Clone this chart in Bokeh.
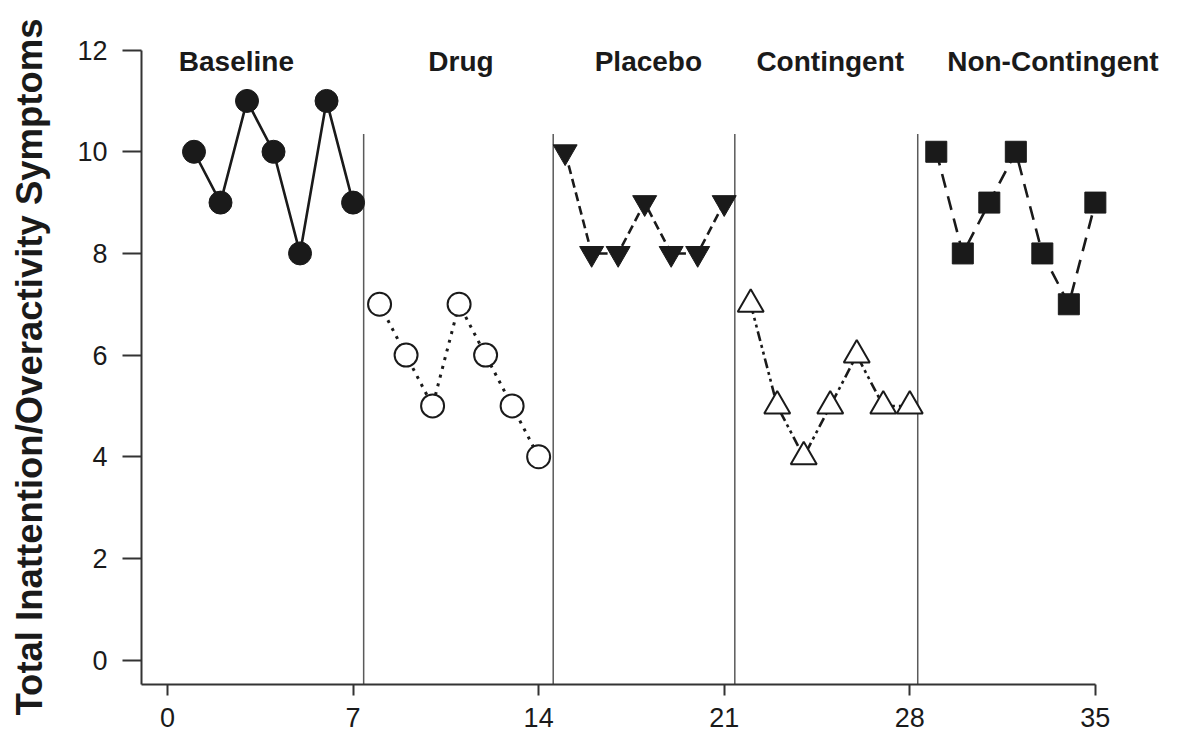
from bokeh.plotting import figure
from bokeh.models import FixedTicker, Range1d, Title
from bokeh.core.properties import value
from bokeh.embed import file_html
from bokeh.resources import INLINE

# ---- data ----
baseline_x = [1, 2, 3, 4, 5, 6, 7]
baseline_y = [10, 9, 11, 10, 8, 11, 9]
drug_x = [8, 9, 10, 11, 12, 13, 14]
drug_y = [7, 6, 5, 7, 6, 5, 4]
placebo_x = [15, 16, 17, 18, 19, 20, 21]
placebo_y = [10, 8, 8, 9, 8, 8, 9]
contingent_x = [22, 23, 24, 25, 26, 27, 28]
contingent_y = [7, 5, 4, 5, 6, 5, 5]
noncont_x = [29, 30, 31, 32, 33, 34, 35]
noncont_y = [10, 8, 9, 10, 8, 7, 9]

phase_names = ["Baseline", "Drug", "Placebo", "Contingent", "Non-Contingent"]
phase_label_x = [2.6, 11.07, 18.14, 25.0, 33.4]
phase_label_y = [11.77, 11.77, 11.77, 11.77, 11.77]
phase_breaks = [7.4, 14.55, 21.4, 28.3]
break_top = 10.35

x_ticks = [0, 7, 14, 21, 28, 35]
y_ticks = [0, 2, 4, 6, 8, 10, 12]
y_title = "Total Inattention/Overactivity Symptoms"

FONT = "Liberation Sans"
INK = "#1a1a1a"

p = figure(width=1177, height=735, output_backend="svg", toolbar_location=None,
           x_range=Range1d(-0.98, 37.91), y_range=Range1d(-0.48, 12.72),
           min_border_left=0, min_border_right=5, min_border_top=13, min_border_bottom=51)
p.outline_line_color = None
p.xgrid.visible = False
p.ygrid.visible = False
p.background_fill_color = "white"

# phase separators
p.segment(x0=phase_breaks, x1=phase_breaks, y0=[-0.48] * 4, y1=[break_top] * 4,
          line_color="#5a5a5a", line_width=1.5)

LW = 2.6
# Baseline
p.line(baseline_x, baseline_y, line_color=INK, line_width=LW)
p.scatter(baseline_x, baseline_y, marker="circle", size=23, fill_color=INK, line_color=INK)
# Drug
p.line(drug_x, drug_y, line_color=INK, line_width=LW + 0.4, line_dash="3 6")
p.scatter(drug_x, drug_y, marker="circle", size=23, fill_color="white", line_color=INK, line_width=2)
# Placebo
p.line(placebo_x, placebo_y, line_color=INK, line_width=LW, line_dash="9 5")
p.scatter(placebo_x, placebo_y, marker="inverted_triangle", size=24, fill_color=INK, line_color=INK)
# Contingent
p.line(contingent_x, contingent_y, line_color=INK, line_width=LW, line_dash="10 4 3 4 3 4")
p.scatter(contingent_x, contingent_y, marker="triangle", size=26, fill_color="white", line_color=INK, line_width=2)
# Non-Contingent
p.line(noncont_x, noncont_y, line_color=INK, line_width=LW, line_dash="14 9")
p.scatter(noncont_x, noncont_y, marker="square", size=21, fill_color=INK, line_color=INK)

# phase labels
p.text(x=phase_label_x, y=phase_label_y, text=phase_names,
       text_font=value(FONT), text_font_style="bold", text_font_size="28px",
       text_align="center", text_baseline="alphabetic", text_color=INK)

# spacer between the axis and the y title
p.add_layout(Title(text=" ", standoff=12, text_font_size="1px"), "left")
# y title, starting from the bottom with an offset
p.add_layout(Title(text=y_title, align="left", vertical_align="top", offset=-31, standoff=16,
                   text_font=FONT, text_font_style="bold", text_font_size="36.5px",
                   text_color=INK), "left")

# axes
xa = p.xaxis[0]
xa.ticker = FixedTicker(ticks=x_ticks)
xa.bounds = (-0.98, 35)
xa.axis_line_width = 2
xa.axis_line_color = "#333333"
xa.major_tick_line_width = 2
xa.major_tick_line_color = "#333333"
xa.major_tick_out = 11
xa.major_tick_in = 0
xa.minor_tick_line_color = None
xa.major_label_text_font = FONT
xa.major_label_text_font_size = "27px"
xa.major_label_text_color = INK
xa.major_label_standoff = 12

ya = p.yaxis[0]
ya.ticker = FixedTicker(ticks=y_ticks)
ya.bounds = (-0.48, 12)
ya.axis_line_width = 2
ya.axis_line_color = "#333333"
ya.major_tick_line_width = 2
ya.major_tick_line_color = "#333333"
ya.major_tick_out = 19
ya.major_tick_in = 0
ya.minor_tick_line_color = None
ya.major_label_text_font = FONT
ya.major_label_text_font_size = "27px"
ya.major_label_text_color = INK
ya.major_label_standoff = 15

open("out.html", "w").write(file_html(p, INLINE))
